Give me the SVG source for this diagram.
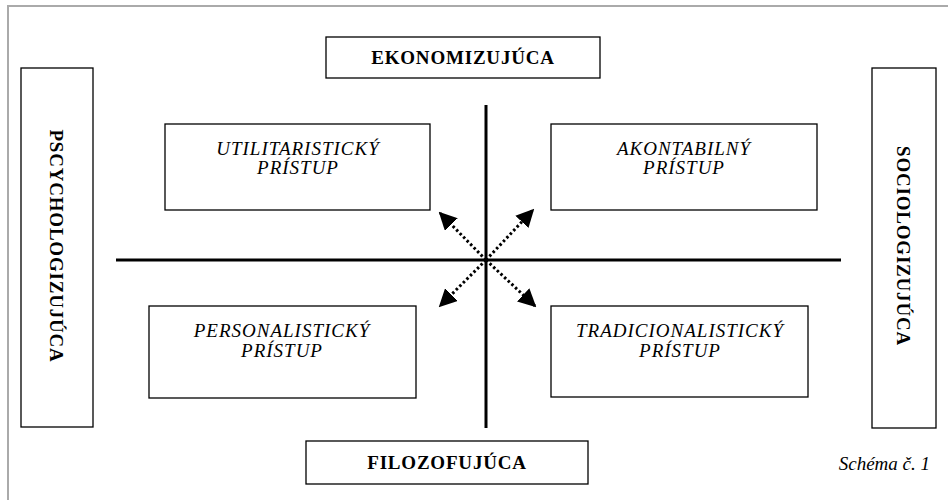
<svg xmlns="http://www.w3.org/2000/svg" width="948" height="500" viewBox="0 0 948 500">
<style>
.box{fill:#fff;stroke:#000;stroke-width:1.3}
.bold{font-family:"Liberation Serif",serif;font-weight:bold;font-size:19px;letter-spacing:0.8px;fill:#000}
.it{font-family:"Liberation Serif",serif;font-style:italic;font-size:19px;letter-spacing:1px;fill:#000}
.axis{stroke:#000;stroke-width:3;fill:none}
.dot{stroke:#000;stroke-width:3;stroke-dasharray:2.5 2.5;fill:none}
</style>
<defs>
<marker id="ah" viewBox="0 0 10 10" refX="9" refY="5" markerWidth="6" markerHeight="6" orient="auto" markerUnits="strokeWidth">
<path d="M0,0 L10,5 L0,10 z" fill="#000"/>
</marker>
</defs>
<rect x="0" y="0" width="948" height="500" fill="#fff"/>
<rect x="8" y="6" width="1000" height="600" fill="none" stroke="#aaa" stroke-width="2"/>
<g id="connectors">
<line class="axis" x1="486" y1="105" x2="486" y2="428"/>
<line class="axis" x1="116" y1="260" x2="841" y2="260"/>
<line class="dot" x1="486" y1="260" x2="440" y2="213" marker-end="url(#ah)"/>
<line class="dot" x1="486" y1="260" x2="533" y2="210" marker-end="url(#ah)"/>
<line class="dot" x1="486" y1="260" x2="440" y2="306" marker-end="url(#ah)"/>
<line class="dot" x1="486" y1="260" x2="535" y2="306" marker-end="url(#ah)"/>
</g>
<g id="ekonomizujuca">
<rect class="box" x="326" y="37" width="274" height="41"/>
<text class="bold" x="463" y="64" text-anchor="middle">EKONOMIZUJÚCA</text>
</g>
<g id="filozofujuca">
<rect class="box" x="306" y="441" width="282" height="43"/>
<text class="bold" x="447" y="469" text-anchor="middle">FILOZOFUJÚCA</text>
</g>
<g id="pscychologizujuca">
<rect class="box" x="21" y="68" width="72" height="359"/>
<text class="bold" transform="translate(50,246) rotate(90)" text-anchor="middle">PSCYCHOLOGIZUJÚCA</text>
</g>
<g id="sociologizujuca">
<rect class="box" x="872" y="68" width="64" height="360"/>
<text class="bold" transform="translate(897,246) rotate(90)" text-anchor="middle">SOCIOLOGIZUJÚCA</text>
</g>
<g id="utilitaristicky">
<rect class="box" x="165" y="124" width="265" height="86"/>
<text class="it" x="298" y="155" text-anchor="middle">UTILITARISTICKÝ</text>
<text class="it" x="298" y="174" text-anchor="middle">PRÍSTUP</text>
</g>
<g id="akontabilny">
<rect class="box" x="551" y="124" width="266" height="86"/>
<text class="it" x="684" y="155" text-anchor="middle">AKONTABILNÝ</text>
<text class="it" x="684" y="174" text-anchor="middle">PRÍSTUP</text>
</g>
<g id="personalisticky">
<rect class="box" x="149" y="306" width="267" height="92"/>
<text class="it" x="282" y="337" text-anchor="middle">PERSONALISTICKÝ</text>
<text class="it" x="282" y="357" text-anchor="middle">PRÍSTUP</text>
</g>
<g id="tradicionalisticky">
<rect class="box" x="551" y="306" width="257" height="91"/>
<text class="it" x="680" y="337" text-anchor="middle">TRADICIONALISTICKÝ</text>
<text class="it" x="680" y="357" text-anchor="middle">PRÍSTUP</text>
</g>
<text x="930" y="470" text-anchor="end" style="font-family:'Liberation Serif',serif;font-style:italic;font-size:19px">Schéma č. 1</text>
</svg>
